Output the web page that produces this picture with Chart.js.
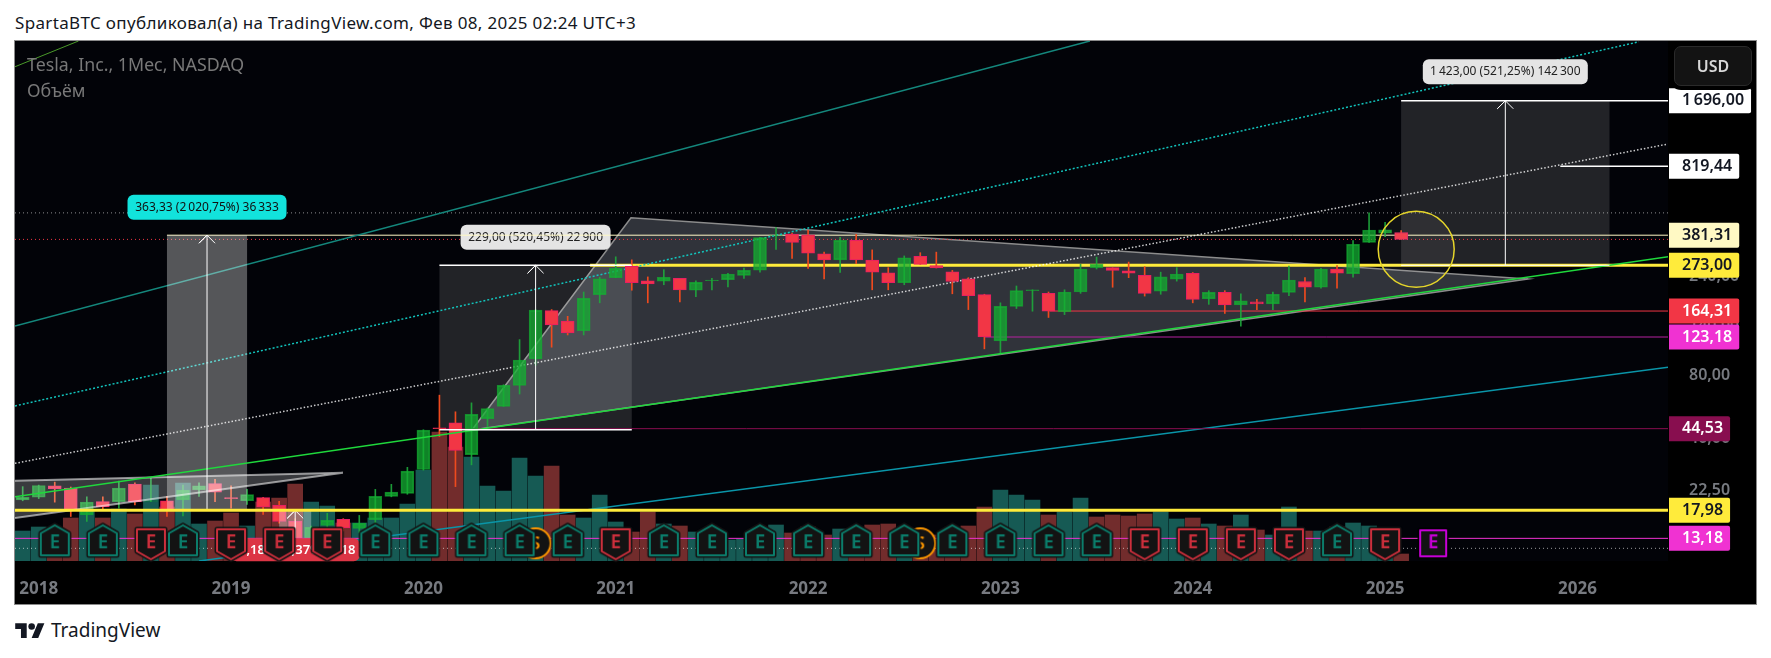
<!DOCTYPE html>
<html>
<head>
<meta charset="utf-8">
<script src="https://cdn.jsdelivr.net/npm/chart.js@4"></script>
<style>
  html, body { margin: 0; padding: 0; background: #fff; width: 1771px; height: 658px; overflow: hidden; }
  body { font-family: "Noto Sans", sans-serif; position: relative; }
  #title { position: absolute; left: 15px; top: 12px; font-size: 17px; letter-spacing: .35px; line-height: 22px; color: #131722; white-space: nowrap; }
  #frame { position: absolute; left: 14px; top: 40px; width: 1741px; height: 563px; border: 1px solid #8a8a8a; background: #000; }
  #chart { display: block; }
  .pane-text { position: absolute; left: 12px; color: #787878; font-size: 17.8px; line-height: 22px; white-space: nowrap; }
  #usd { position: absolute; left: 1659px; top: 5px; width: 76px; height: 38px; line-height: 38px; text-align: center; background: #131313;
    border: 1px solid #2a2a2a; border-radius: 7px; color: #d8d8d8; font-size: 16px; font-weight: 600; box-shadow: 0 0 0 4px #000; }
  #logo { position: absolute; left: 15px; top: 620px; }
  #logo-text { position: absolute; left: 51px; top: 617px; font-size: 19px; line-height: 26px; color: #131722; }
</style>
</head>
<body>
<div id="title">SpartaBTC опубликовал(а) на TradingView.com, Фев 08, 2025 02:24 UTC+3</div>
<div id="frame">
  <canvas id="chart" width="1741" height="563"></canvas>
  <div class="pane-text" style="top:12px">Tesla, Inc., 1Мес, NASDAQ</div>
  <div class="pane-text" style="top:38px">Объём</div>
  <div id="usd">USD</div>
</div>
<svg id="logo" width="30" height="23" viewBox="0 0 36 28"><path fill="#131722" d="M14 22H7V11H0V4h14v18ZM28 22h-8l7.5-18h8L28 22Z"/><circle fill="#131722" cx="20" cy="8" r="4"/></svg>
<div id="logo-text">TradingView</div>

<script>
// month index 0 = Jan 2018, first candle is Dec 2017
const firstMonth = -1;
const xMin = -1.48, xMax = 101.65;
const priceMin = 10.25, priceMax = 3292;

const opens = [20.2,20.8,23.6,23.0,17.1,19.8,19.8,24.1,19.9,20.0,20.2,22.6,24.2,20.7,20.0,20.7,19.0,15.9,12.4,15.2,16.3,14.7,16.2,21.0,21.7,
  28.3,44.9,47.5,33.4,49.8,57,72,96.6,165,147,132,197,238,270,230,229,236,207,230,233,244,259,380,386,
  383,310,290,360,289,251,225,302,272,254,235,197,118,173,206,200,163,203,265,266,257,244,205,234,250,
  188,202,176,182,178,202,228,214,262,249,352,390,393];
const highs = [23.4,23.8,24.6,23.3,20.9,20.9,24.9,24.4,25.7,21.0,23.8,24.4,25.4,23.6,22.7,20.8,19.9,16.4,15.1,17.4,16.4,17.0,22.7,24.0,29.0,
  44,64.6,53.7,59.3,56,72.5,119.7,167,167,155,203,239,300,290,240,260,236,230,236,250,265,372,415,390,
  403,316,372,385,324,266,303,314,316,258,238,198,180,217,208,203,208,276,299,266,283,269,253,266,252,
  206,206,199,187,203,271,238,264,272,359,488.5,440,401];
const lows = [20.0,20.5,19.7,16.8,15.9,18.0,18.4,19.1,19.8,16.8,16.9,21.0,19.8,18.4,19.2,17.2,15.6,12.0,11.9,14.9,14.3,14.0,15.6,20.9,21.5,
  28.1,40.8,23.4,29.8,45.5,57,65.4,90,110,126,126,180,238,207,180,220,182,193,208,215,236,253,326,295,
  264,235,252,278,208,208,220,276,265,199,167,108,101.8,169,164,153,158,200,262,214,238,194,198,229,180,
  177,160,139,167,167,195,182,212,212,239,352,375,364];
const closes = [20.8,23.7,22.9,17.9,19.7,18.7,23.0,19.8,20.0,17.9,22.5,23.6,22.0,20.5,21.4,18.7,15.9,12.4,14.9,16.1,14.8,15.6,21.0,22.0,27.8,
  43.8,44.5,35.0,52.2,55.6,72,95.4,166,141,129,189,235,264,225,222,239,208,226,232,248,258,371,382,352,
  312,290,360,290,253,225,297,276,265,228,195,123.18,173,206,208,164.31,203,262,276,258,250,200,240,248,187,
  202,176,184,178,198,232,214,262,250,345,404,405,364];
// share volume in billions
const volumes = [1.20,1.36,1.12,1.72,2.00,1.72,2.08,1.88,3.04,2.16,3.12,1.48,1.60,1.92,1.40,2.36,2.52,3.08,2.36,2.20,1.52,1.52,1.72,1.72,2.28,
  3.64,5.16,4.56,4.16,3.00,2.80,4.12,3.40,3.80,1.84,1.72,2.64,1.56,1.16,1.96,1.48,1.40,1.16,1.00,0.84,0.88,1.32,1.44,1.12,
  1.36,1.04,1.28,1.24,1.44,1.48,1.12,0.72,1.04,1.24,1.40,2.16,2.84,2.64,2.44,1.84,1.96,2.52,1.76,1.84,1.80,1.88,1.96,1.68,1.72,
  1.48,1.40,1.84,1.24,1.04,2.16,1.20,1.20,1.36,1.52,1.40,0.96,0.28];
// month whose volume bar is red even though the candle closes up
const redVolumeMonths = [66];

const yearLabels = ['2018','2019','2020','2021','2022','2023','2024','2025','2026'];
const axisPrices = [240, 140, 80, 40, 22.5];
const tagPrices = [1696, 819.44, 381.31, 273, 164.31, 123.18, 44.53, 17.98, 13.18];

const earningsBeat = [1,4,9,21,24,27,30,33,39,42,45,48,51,54,57,60,63,66,81];
const earningsMiss = [7,12,15,18,36,69,72,75,78,84];
const earningsNext = [87];
const splitMonths = [31,55];
const markerPrice = 12.48;

const lastHigh = 488.54, lastPrice = 364, lowDots = 11.8;

// drawings: [month, price]
const greenTrend = [[-1.48,20.9],[101.65,300.4]];
const greenTop = [[-1.48,2474],[2.48,3292]];
const whiteChannel = [[-1.48,30.3],[101.65,1049]];
const tealChannel = [[-1.48,57.3],[99.83,3262]];
const tealTop = [[-1.48,139.2],[65.58,3292]];
const blueLine = [[10,10.25],[101.65,88]];
const bigWedge = [[27.03,43.86],[36.95,462.8],[92.91,234.4],[27.03,43.86]];
const oldWedge = [[-1.48,25.0],[18.98,27.3],[-1.48,16.5]];
const circleSpot = [[85.94,326]];

const rangeMonths2018 = [8,13,10.5], rangePrices2018 = [18,381.31];
const rangeMonths2019 = [15,17,16], rangePrices2019 = [13.18,17.98];
const rangeMonths2020 = [25,37,31], rangePrices2020 = [44,273];
const rangeMonths2025 = [85,98,91.5], rangePrices2025 = [273,1696];

const pillTexts = ['229,00 (520,45%) 22\u202f900','363,33 (2\u202f020,75%) 36\u202f333','1\u202f423,00 (521,25%) 142\u202f300','-4,18 (-24,37%) -418'];

const FONT = '"Noto Sans", sans-serif';
const months = opens.map((_, i) => i + firstMonth);
const isUp = i => closes[i] >= opens[i];
const fmt = v => {
  const [a, b] = v.toFixed(2).split('.');
  return a.replace(/\B(?=(\d{3})+$)/g, '\u202f') + ',' + b;
};

function lineSet(label, pts, color, width, order, extra) {
  return Object.assign({
    type: 'line', label, yAxisID: 'y', order,
    data: pts.map(p => ({x: p[0], y: p[1]})),
    borderColor: color, borderWidth: width, pointRadius: 0, tension: 0, fill: false
  }, extra || {});
}
function fillSet(label, pts, color, order, stroke, width) {
  return lineSet(label, pts, stroke || 'rgba(0,0,0,0)', width || 0, order, {fill: 'shape', backgroundColor: color});
}
function level(label, price, from, color, width, order, dash) {
  return lineSet(label, [[from, price], [xMax, price]], color, width, order, dash ? {borderDash: dash} : {});
}
function box(ms, ps) {
  return [[ms[0],ps[0]],[ms[0],ps[1]],[ms[1],ps[1]],[ms[1],ps[0]],[ms[0],ps[0]]];
}
function arrow(m, ps) {
  const head = ps[1] * 0.915;
  return [[m,ps[0]],[m,ps[1]],[m-0.5,head],[m,ps[1]],[m+0.5,head]];
}

function badgeCanvas(kind) {
  const c = document.createElement('canvas');
  c.width = 38; c.height = 42;
  const g = c.getContext('2d');
  const col = kind === 'beat' ? '#0b7d6b' : kind === 'miss' ? '#cc2f3c' : '#c800d8';
  g.beginPath();
  if (kind === 'beat') {
    g.moveTo(19,3); g.lineTo(33,11); g.lineTo(33,33); g.lineTo(5,33); g.lineTo(5,11);
  } else if (kind === 'miss') {
    g.moveTo(5,7); g.lineTo(33,7); g.lineTo(33,29); g.lineTo(19,37); g.lineTo(5,29);
  } else {
    g.moveTo(6,8); g.lineTo(32,8); g.lineTo(32,34); g.lineTo(6,34);
  }
  g.closePath();
  g.lineJoin = 'round';
  g.lineWidth = 5; g.strokeStyle = kind === 'next' ? '#000' : '#141414'; g.stroke();
  g.fillStyle = '#131313'; g.fill();
  g.lineWidth = 2; g.strokeStyle = col; g.stroke();
  g.fillStyle = col;
  g.font = '600 19px ' + FONT;
  g.textAlign = 'center'; g.textBaseline = 'middle';
  g.fillText('E', 19, 21);
  return c;
}
function splitCanvas() {
  const c = document.createElement('canvas');
  c.width = 36; c.height = 36;
  const g = c.getContext('2d');
  g.beginPath(); g.arc(18,18,15,0,Math.PI*2);
  g.fillStyle = '#131313'; g.fill();
  g.lineWidth = 2; g.strokeStyle = '#ff9800'; g.stroke();
  g.fillStyle = '#ff9800';
  g.font = '600 17px ' + FONT;
  g.textAlign = 'center'; g.textBaseline = 'middle';
  g.fillText('S', 18, 19);
  return c;
}

// pills hang off the dataset they sit just below in the draw order
const pills = [
  {text: pillTexts[0], m: rangeMonths2020[2], price: 273, dy: -28, w: 150, h: 25, bg: '#e4e4e4', fg: '#222', before: 'Level 488'},
  {text: pillTexts[1], m: rangeMonths2018[2], price: 381.31, dy: -28, w: 159, h: 25, bg: '#12e3dc', fg: '#111', before: 'Earnings split'},
  {text: pillTexts[2], m: rangeMonths2025[2], price: 1696, dy: -29, w: 165, h: 25, bg: '#e4e4e4', fg: '#222', before: 'Earnings split'},
  {text: pillTexts[3], m: rangeMonths2019[2], price: 13.18, dy: 11.5, w: 129, h: 23, bg: '#dc3545', fg: '#fff', bold: true, before: 'Earnings split'}
];

const pillPlugin = {
  id: 'pills',
  beforeDatasetDraw(chart, args) {
    const name = chart.data.datasets[args.index].label;
    const g = chart.ctx;
    pills.filter(p => p.before === name).forEach(p => {
      const cx = chart.scales.x.getPixelForValue(p.m);
      const cy = chart.scales.y.getPixelForValue(p.price) + p.dy;
      g.save();
      g.beginPath();
      g.roundRect(cx - p.w / 2, cy - p.h / 2, p.w, p.h, 6);
      g.fillStyle = p.bg; g.fill();
      g.fillStyle = p.fg;
      g.font = (p.bold ? '600 13px ' : '12px ') + FONT;
      g.textAlign = 'center'; g.textBaseline = 'middle';
      g.fillText(p.text, cx, cy);
      g.restore();
    });
  }
};

const tagStyles = [['#fff','#131722'],['#fff','#131722'],['#fff9c4','#131722'],['#ffeb3b','#131722'],['#f23645','#fff'],
  ['#f032d2','#fff'],['#880e4f','#fff'],['#ffeb3b','#131722'],['#f032d2','#fff']];

const tagPlugin = {
  id: 'tags',
  beforeDraw(chart) {
    const a = chart.chartArea, g = chart.ctx;
    g.fillStyle = '#020308';
    g.fillRect(a.left, a.top, a.right - a.left, a.bottom - a.top);
  },
  afterDraw(chart) {
    const g = chart.ctx, a = chart.chartArea;
    g.save();
    g.font = '600 16px ' + FONT;
    tagPrices.forEach((p, i) => {
      const y = chart.scales.y.getPixelForValue(p);
      const t = fmt(p);
      const w = g.measureText(t).width + 20;
      g.beginPath();
      g.roundRect(a.right + 1, y - 12.5, w, 25, [0, 2, 2, 0]);
      g.fillStyle = tagStyles[i][0]; g.fill();
      g.fillStyle = tagStyles[i][1];
      g.textBaseline = 'middle';
      g.fillText(t, a.right + 14, y);
    });
    g.restore();
  }
};

const volSet = {
  type: 'bar', label: 'Volume', yAxisID: 'y2', order: 100, grouped: false, barThickness: 15,
  data: volumes.map((v, i) => ({x: months[i], y: v})),
  backgroundColor: months.map((m, i) => (isUp(i) && !redVolumeMonths.includes(m)) ? '#165a54' : '#722c2c')
};
const wickSet = {
  type: 'bar', label: 'Wicks', yAxisID: 'y', order: 80, grouped: false, barThickness: 1,
  data: months.map((m, i) => ({x: m, y: [lows[i], highs[i]]})),
  backgroundColor: months.map((m, i) => isUp(i) ? 'rgba(30,170,60,.9)' : '#ee4a1e')
};
const bodySet = {
  type: 'bar', label: 'Candles', yAxisID: 'y', order: 79, grouped: false, barThickness: 13, borderSkipped: false, borderWidth: 1,
  data: months.map((m, i) => ({x: m, y: [opens[i], closes[i]]})),
  backgroundColor: months.map((m, i) => isUp(i) ? 'rgba(20,175,50,.75)' : '#f23645'),
  borderColor: months.map((m, i) => isUp(i) ? 'rgba(20,175,50,.75)' : '#e91e63')
};

const W = 'rgba(255,255,255,';
const datasets = [
  volSet,
  fillSet('Wedge 2020', bigWedge, 'rgba(215,225,235,.22)', 92, '#8c8c8c', 1.5),
  fillSet('Range 2020', box(rangeMonths2020, rangePrices2020), W + '.13)', 91),
  fillSet('Range 2025', box(rangeMonths2025, rangePrices2025), W + '.13)', 91),
  level('Level 488', lastHigh, xMin, W + '.55)', 1, 88, [1, 3]),
  level('Level last', lastPrice, xMin, '#f23645', 1, 88, [1, 3]),
  level('Level 381', 381.31, rangeMonths2018[0], '#fff9c4', 1, 87),
  level('Level 273', 273, 34.4, '#ffeb3b', 3, 86),
  lineSet('Teal top', tealTop, '#14877c', 1.5, 85),
  lineSet('Green top', greenTop, '#4a9a2a', 1, 85),
  lineSet('Teal channel', tealChannel, '#12c5bd', 1.5, 85, {borderDash: [2, 2]}),
  lineSet('White channel', whiteChannel, W + '.8)', 1.5, 85, {borderDash: [1.5, 2]}),
  lineSet('Blue line', blueLine, '#0a95a8', 1.5, 85),
  level('Level 164', 164.31, 63.07, '#f23645', 1, 84),
  level('Level 123', 123.18, 59, '#b5229f', 1, 84),
  level('Level 44', 44.53, 25, '#880e4f', 1, 84),
  wickSet,
  bodySet,
  fillSet('Wedge 2018', oldWedge, W + '.22)', 70, W + '.55)', 2),
  fillSet('Range 2018', box(rangeMonths2018, rangePrices2018), W + '.33)', 70),
  fillSet('Range 2019', box(rangeMonths2019, rangePrices2019), W + '.33)', 70),
  lineSet('Green trend', greenTrend, '#1fd83c', 1.5, 68),
  lineSet('Arrow 2018', arrow(rangeMonths2018[2], rangePrices2018), '#fff', 1, 60),
  lineSet('Arrow 2019', arrow(rangeMonths2019[2], rangePrices2019), '#fff', 1, 60),
  lineSet('Arrow 2020', arrow(rangeMonths2020[2], rangePrices2020), '#fff', 1, 60),
  lineSet('Arrow 2025', arrow(rangeMonths2025[2], rangePrices2025), '#fff', 1, 60),
  lineSet('Top 2020', [[rangeMonths2020[0],273],[rangeMonths2020[1],273]], '#fff', 1.5, 60),
  lineSet('Bottom 2020', [[rangeMonths2020[0],44],[rangeMonths2020[1],44]], '#fff', 1.5, 60),
  level('Level 1696', 1696, rangeMonths2025[0], '#fff', 1.5, 60),
  level('Level 819', 819.44, 94.93, '#fff', 1.5, 60),
  lineSet('Bottom 2025', [[rangeMonths2025[0],273],[rangeMonths2025[1],273]], '#fff', 1, 60),
  lineSet('Circle', circleSpot, 'rgba(0,0,0,0)', 0, 50, {showLine: false, pointRadius: 38, pointBackgroundColor: W + '.06)', pointBorderColor: '#e6d62a', pointBorderWidth: 1.5}),
  level('Level 17', 17.98, xMin, '#ffeb3b', 3, 45),
  level('Level 13', 13.18, xMin, '#f032d2', 1, 45),
  level('Level low', lowDots, xMin, W + '.6)', 1, 45, [1, 3])
];

window.addEventListener('load', () => {
  const markers = [
    ['Earnings split', splitMonths, splitCanvas(), 20],
    ['Earnings beat', earningsBeat, badgeCanvas('beat'), 10],
    ['Earnings miss', earningsMiss, badgeCanvas('miss'), 10],
    ['Earnings next', earningsNext, badgeCanvas('next'), 10]
  ];
  markers.forEach(([label, ms, img, order]) => {
    datasets.push(lineSet(label, ms.map(m => [m, markerPrice]), 'rgba(0,0,0,0)', 0, order, {showLine: false, pointStyle: img, pointRadius: 15, clip: false}));
  });

  new Chart(document.getElementById('chart').getContext('2d'), {
    type: 'bar',
    data: {datasets},
    options: {
      responsive: false,
      animation: false,
      devicePixelRatio: 1,
      events: [],
      layout: {padding: 0, autoPadding: false},
      plugins: {legend: {display: false}, tooltip: {enabled: false}, title: {display: false}},
      scales: {
        x: {
          type: 'linear', min: xMin, max: xMax, offset: false,
          grid: {display: false}, border: {display: false},
          afterBuildTicks(s) { s.ticks = yearLabels.map((_, i) => ({value: i * 12})); },
          afterFit(s) { s.height = 43; s.paddingLeft = 0; s.paddingRight = 0; },
          ticks: {
            color: '#777a80', font: {family: FONT, size: 17, weight: 'bold'}, padding: 10,
            maxRotation: 0, autoSkip: false,
            callback: v => yearLabels[Math.round(v / 12)]
          }
        },
        y: {
          type: 'logarithmic', position: 'right', min: priceMin, max: priceMax,
          grid: {display: false}, border: {display: false},
          afterBuildTicks(s) { s.ticks = axisPrices.map(value => ({value})); },
          afterFit(s) { s.width = 88; s.paddingTop = 0; s.paddingBottom = 0; },
          ticks: {
            color: '#777a80', font: {family: FONT, size: 16, weight: '600'}, padding: 13, crossAlign: 'near',
            autoSkip: false, callback: v => fmt(v)
          }
        },
        y2: {type: 'linear', display: false, min: 0, max: 20.8}
      }
    },
    plugins: [pillPlugin, tagPlugin]
  });
});
</script>
</body>
</html>
